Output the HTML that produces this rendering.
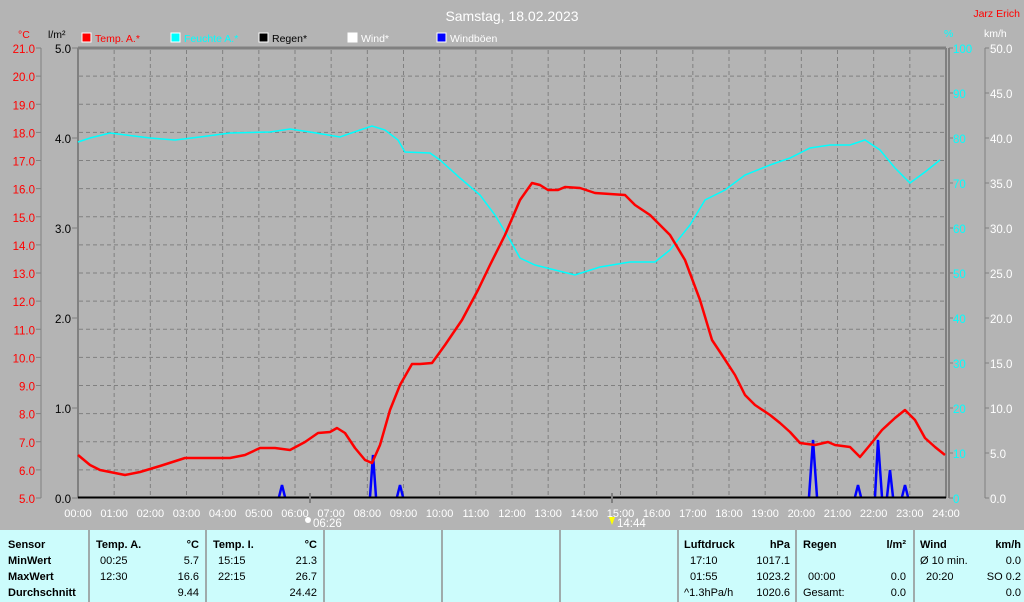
<!DOCTYPE html><html><head><meta charset="utf-8"><style>
body{margin:0;width:1024px;height:602px;background:#b4b4b4;overflow:hidden;font-family:"Liberation Sans",sans-serif}
svg text{font-family:"Liberation Sans",sans-serif}
.tb{position:absolute;top:530px;height:72px;background:#ccfcfc}
</style></head><body>
<svg width="1024" height="602" style="position:absolute;left:0;top:0">
<text x="512" y="21" font-size="14" fill="#fff" text-anchor="middle">Samstag, 18.02.2023</text>
<text x="1020" y="17" font-size="10.5" fill="#f00" text-anchor="end">Jarz Erich</text>
<g font-size="10.5">
<text x="18" y="38" fill="#f00">°C</text><text x="48" y="38" fill="#000">l/m²</text>
<rect x="82" y="33" width="9" height="9" fill="#f00" stroke="#fff"/><text x="95" y="42" fill="#f00">Temp. A.*</text>
<rect x="171" y="33" width="9" height="9" fill="#0ff" stroke="#fff"/><text x="184" y="42" fill="#0ff">Feuchte A.*</text>
<rect x="259" y="33" width="9" height="9" fill="#000" stroke="#fff"/><text x="272" y="42" fill="#000">Regen*</text>
<rect x="348" y="33" width="9" height="9" fill="#fff" stroke="#fff"/><text x="361" y="42" fill="#fff">Wind*</text>
<rect x="437" y="33" width="9" height="9" fill="#00f" stroke="#fff"/><text x="450" y="42" fill="#fff">Windböen</text>
<text x="944" y="37" fill="#0ff">%</text><text x="984" y="37" fill="#fff">km/h</text>
</g>
<g id="grid" stroke="#808080" stroke-dasharray="4,3" stroke-width="1"></g>
<line x1="78" y1="48" x2="946" y2="48" stroke="#808080" stroke-width="3"/>
<line x1="78" y1="48" x2="78" y2="498" stroke="#808080" stroke-width="2"/>
<line x1="946" y1="48" x2="946" y2="498" stroke="#808080" stroke-width="2"/>
<line x1="949" y1="48" x2="949" y2="498" stroke="#808080" stroke-width="2"/>
<line x1="41" y1="48" x2="41" y2="498" stroke="#808080"/>
<line x1="985" y1="48" x2="985" y2="498" stroke="#808080"/>
<g id="ax" font-size="11.5"></g>
<polyline fill="none" stroke="#0ff" stroke-width="1.5" points="78,142 90,138 110,133 150,138 175,140 200,137 230,133 270,132 290,129 310,132 340,137 360,130 372,126 385,130 398,140 405,152 430,153 440,160 460,178 480,195 495,215 510,240 520,258 535,265 555,270 575,275 600,267 630,262 655,262 670,250 690,225 705,200 725,190 745,175 770,165 790,158 810,148 830,145 850,145 865,140 880,150 895,168 910,183 925,172 940,160"/>
<g fill="none" stroke="#00f" stroke-width="2.5">
<polyline points="279,497 282,485 285,497"/><polyline points="370,497 373,455 376,497"/><polyline points="397,497 400,485 403,497"/><polyline points="809,497 813,440 817,497"/><polyline points="855,497 858,485 861,497"/><polyline points="875,497 878,440 882,497"/><polyline points="887,497 890,470 893,497"/><polyline points="902,497 905,485 908,497"/></g>
<line x1="78" y1="497.5" x2="946" y2="497.5" stroke="#000" stroke-width="2"/>
<polyline fill="none" stroke="#f00" stroke-width="2.5" stroke-linejoin="round" points="78,455 90,465 100,470 125,475 140,472 160,466 185,458 200,458 230,458 245,455 260,448 275,448 290,450 305,442 318,433 330,432 337,428 345,433 355,448 365,460 372,463 380,445 390,410 400,385 412,364 420,364 432,363 445,345 462,320 478,290 490,265 505,235 520,200 532,183 540,185 548,190 558,190 565,187 580,188 595,193 625,195 635,205 650,215 670,235 685,260 700,300 712,340 722,355 735,375 745,395 755,405 770,415 780,423 790,432 800,443 815,445 828,442 835,445 850,447 860,457 870,445 882,430 895,418 905,410 915,420 925,438 935,447 945,455"/>
<line x1="310" y1="493" x2="310" y2="503" stroke="#808080" stroke-width="2"/>
<line x1="612" y1="493" x2="612" y2="503" stroke="#808080" stroke-width="2"/>
<circle cx="308" cy="520" r="3" fill="#fff"/><text x="313" y="527" font-size="11.5" fill="#fff">06:26</text>
<path d="M609,517 l6,0 -3,8z" fill="#ff0"/><text x="617" y="527" font-size="11.5" fill="#fff">14:44</text>
</svg>
<div class="tb" style="left:0;width:1024px"></div>
<svg width="1024" height="72" style="position:absolute;left:0;top:530px">
<g stroke="#909090" stroke-width="1.5"><line x1="89" y1="0" x2="89" y2="72"/><line x1="206" y1="0" x2="206" y2="72"/><line x1="324" y1="0" x2="324" y2="72"/><line x1="442" y1="0" x2="442" y2="72"/><line x1="560" y1="0" x2="560" y2="72"/><line x1="678" y1="0" x2="678" y2="72"/><line x1="796" y1="0" x2="796" y2="72"/><line x1="914" y1="0" x2="914" y2="72"/></g>
<g font-size="11" fill="#000">
<g font-weight="bold"><text x="8" y="18">Sensor</text><text x="8" y="34">MinWert</text><text x="8" y="50">MaxWert</text><text x="8" y="66">Durchschnitt</text>
<text x="96" y="18">Temp. A.</text><text x="199" y="18" text-anchor="end">°C</text>
<text x="213" y="18">Temp. I.</text><text x="317" y="18" text-anchor="end">°C</text>
<text x="684" y="18">Luftdruck</text><text x="790" y="18" text-anchor="end">hPa</text>
<text x="803" y="18">Regen</text><text x="906" y="18" text-anchor="end">l/m²</text>
<text x="920" y="18">Wind</text><text x="1021" y="18" text-anchor="end">km/h</text></g>
<text x="100" y="34">00:25</text><text x="199" y="34" text-anchor="end">5.7</text>
<text x="100" y="50">12:30</text><text x="199" y="50" text-anchor="end">16.6</text>
<text x="199" y="66" text-anchor="end">9.44</text>
<text x="218" y="34">15:15</text><text x="317" y="34" text-anchor="end">21.3</text>
<text x="218" y="50">22:15</text><text x="317" y="50" text-anchor="end">26.7</text>
<text x="317" y="66" text-anchor="end">24.42</text>
<text x="690" y="34">17:10</text><text x="790" y="34" text-anchor="end">1017.1</text>
<text x="690" y="50">01:55</text><text x="790" y="50" text-anchor="end">1023.2</text>
<text x="684" y="66">^1.3hPa/h</text><text x="790" y="66" text-anchor="end">1020.6</text>
<text x="808" y="50">00:00</text><text x="906" y="50" text-anchor="end">0.0</text>
<text x="803" y="66">Gesamt:</text><text x="906" y="66" text-anchor="end">0.0</text>
<text x="920" y="34">Ø 10 min.</text><text x="1021" y="34" text-anchor="end">0.0</text>
<text x="926" y="50">20:20</text><text x="1021" y="50" text-anchor="end">SO 0.2</text>
<text x="1021" y="66" text-anchor="end">0.0</text>
</g></svg>
<script>
const ns="http://www.w3.org/2000/svg",g=document.getElementById('grid'),ax=document.getElementById('ax');
function el(p,t,a,txt){const e=document.createElementNS(ns,t);for(const k in a)e.setAttribute(k,a[k]);if(txt!==undefined)e.textContent=txt;p.appendChild(e);return e}
for(let h=1;h<24;h++){const x=78+h*868/24;el(g,'line',{x1:x,y1:50,x2:x,y2:497})}
for(let i=1;i<16;i++){const y=498-i*28.125;el(g,'line',{x1:79,y1:y,x2:945,y2:y})}
for(let h=0;h<=24;h++){const x=78+h*868/24;el(ax,'text',{x:x,y:517,fill:'#fff','text-anchor':'middle','font-size':'11'},String(h).padStart(2,'0')+':00')}
for(let i=0;i<=16;i++){const y=498-i*28.125;el(ax,'text',{x:35,y:y+5,fill:'#f00','text-anchor':'end'},(5+i).toFixed(1));el(ax,'line',{x1:36,y1:y,x2:41,y2:y,stroke:'#808080'})}
for(let i=0;i<=5;i++){const y=498-i*90;el(ax,'text',{x:71,y:y+5,fill:'#000','text-anchor':'end'},i.toFixed(1));el(ax,'line',{x1:72,y1:y,x2:78,y2:y,stroke:'#808080'})}
for(let i=0;i<=10;i++){const y=498-i*45;el(ax,'text',{x:953,y:y+5,fill:'#0ff'},String(i*10));el(ax,'line',{x1:949,y1:y,x2:953,y2:y,stroke:'#808080'});el(ax,'text',{x:990,y:y+5,fill:'#fff'},(i*5).toFixed(1));el(ax,'line',{x1:985,y1:y,x2:989,y2:y,stroke:'#808080'})}
</script>
</body></html>
